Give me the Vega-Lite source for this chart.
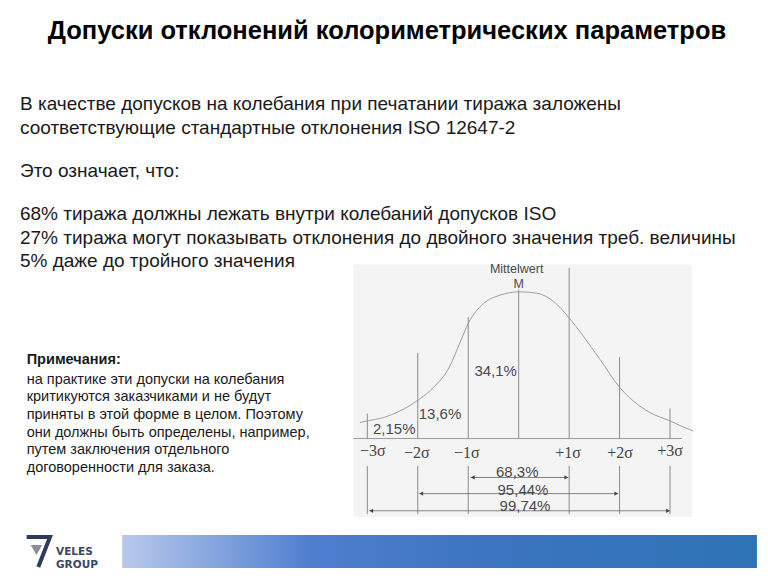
{
  "$schema": "https://vega.github.io/schema/vega-lite/v6.json",
  "width": 768,
  "height": 576,
  "autosize": {"type": "fit", "contains": "padding"},
  "padding": 0,
  "background": "#ffffff",
  "config": {"view": {"stroke": null}},
  "layer": [
    {
      "data": {"values": [{"x": -3.278, "x2": 3.429, "y": 0.473, "y2": -0.2136}]},
      "mark": {"type": "rect", "color": "#f4f4f4"},
      "encoding": {
        "x": {"field": "x", "type": "quantitative", "scale": {"domain": [-10.281, 4.942], "nice": false, "zero": false}, "axis": null},
        "x2": {"field": "x2"},
        "y": {"field": "y", "type": "quantitative", "scale": {"domain": [-0.3711, 1.1925], "nice": false, "zero": false}, "axis": null},
        "y2": {"field": "y2"}
      }
    },
    {
      "data": {"values": [{"x": -7.861, "x2": 4.723, "y": -0.2625, "y2": -0.3521}]},
      "mark": {"type": "rect", "color": {"gradient": "linear", "x1": 0, "x2": 1, "y1": 0, "y2": 0, "stops": [{"offset": 0, "color": "#b9c9eb"}, {"offset": 0.3, "color": "#4e7ecf"}, {"offset": 0.6, "color": "#3b74c0"}, {"offset": 1, "color": "#2e74b5"}]}},
      "encoding": {
        "x": {"field": "x", "type": "quantitative"},
        "x2": {"field": "x2"},
        "y": {"field": "y", "type": "quantitative"},
        "y2": {"field": "y2"}
      }
    },
    {
      "data": {"values": [
        {"x": -3.146, "y": 0.0434}, {"x": -3.0, "y": 0.0479}, {"x": -2.683, "y": 0.0569}, {"x": -2.353, "y": 0.075},
        {"x": -1.99, "y": 0.1049}, {"x": -1.692, "y": 0.1384}, {"x": -1.362, "y": 0.1972}, {"x": -1.164, "y": 0.2606},
        {"x": -0.992, "y": 0.3149}, {"x": -0.701, "y": 0.3665}, {"x": -0.371, "y": 0.3898}, {"x": 0.0125, "y": 0.399},
        {"x": 0.356, "y": 0.3953}, {"x": 0.686, "y": 0.3735}, {"x": 0.997, "y": 0.3284}, {"x": 1.281, "y": 0.2785},
        {"x": 1.612, "y": 0.2153}, {"x": 1.995, "y": 0.1401}, {"x": 2.272, "y": 0.1021}, {"x": 2.603, "y": 0.0706},
        {"x": 2.999, "y": 0.0479}, {"x": 3.263, "y": 0.0315}, {"x": 3.461, "y": 0.0206}
      ]},
      "mark": {"type": "line", "color": "#a0a0a0", "strokeWidth": 1, "interpolate": "monotone"},
      "encoding": {
        "x": {"field": "x", "type": "quantitative"},
        "y": {"field": "y", "type": "quantitative"}
      }
    },
    {
      "data": {"values": [{"x": -3.278, "x2": 3.231, "y": 0}]},
      "mark": {"type": "rule", "color": "#9a9a9a", "strokeWidth": 1},
      "encoding": {
        "x": {"field": "x", "type": "quantitative"},
        "x2": {"field": "x2"},
        "y": {"field": "y", "type": "quantitative"}
      }
    },
    {
      "data": {"values": [
        {"x": -3.0, "y": 0, "y2": 0.0679}, {"x": -2.0, "y": 0, "y2": 0.2334}, {"x": -1.0, "y": 0, "y2": 0.3301},
        {"x": 0.0, "y": 0, "y2": 0.405}, {"x": 1.0, "y": 0, "y2": 0.4642}, {"x": 2.0, "y": 0, "y2": 0.2215},
        {"x": 3.0, "y": 0, "y2": 0.0814},
        {"x": -3.0, "y": -0.0744, "y2": -0.2055}, {"x": -2.0, "y": -0.0744, "y2": -0.2055}, {"x": -1.0, "y": -0.0744, "y2": -0.2055},
        {"x": 1.0, "y": -0.0744, "y2": -0.2055}, {"x": 2.0, "y": -0.0744, "y2": -0.2055}, {"x": 3.0, "y": -0.0744, "y2": -0.2055}
      ]},
      "mark": {"type": "rule", "color": "#8c8c8c", "strokeWidth": 1},
      "encoding": {
        "x": {"field": "x", "type": "quantitative"},
        "y": {"field": "y", "type": "quantitative"},
        "y2": {"field": "y2"}
      }
    },
    {
      "data": {"values": [
        {"x": -0.951, "x2": 0.983, "y": -0.1059},
        {"x": -1.97, "x2": 1.974, "y": -0.1498},
        {"x": -2.961, "x2": 2.999, "y": -0.1965}
      ]},
      "mark": {"type": "rule", "color": "#666666", "strokeWidth": 0.8},
      "encoding": {
        "x": {"field": "x", "type": "quantitative"},
        "x2": {"field": "x2"},
        "y": {"field": "y", "type": "quantitative"}
      }
    },
    {
      "data": {"values": [
        {"x": -0.91, "y": -0.1059, "dir": "triangle-left"}, {"x": 0.943, "y": -0.1059, "dir": "triangle-right"},
        {"x": -1.93, "y": -0.1498, "dir": "triangle-left"}, {"x": 1.934, "y": -0.1498, "dir": "triangle-right"},
        {"x": -2.921, "y": -0.1965, "dir": "triangle-left"}, {"x": 2.959, "y": -0.1965, "dir": "triangle-right"}
      ]},
      "mark": {"type": "point", "filled": true, "color": "#444444", "size": 18, "opacity": 1},
      "encoding": {
        "x": {"field": "x", "type": "quantitative"},
        "y": {"field": "y", "type": "quantitative"},
        "shape": {"field": "dir", "type": "nominal", "scale": {"domain": ["triangle-left", "triangle-right"], "range": ["triangle-left", "triangle-right"]}, "legend": null}
      }
    },
    {
      "data": {"values": [
        {"x": -2.89, "y": -0.0327, "t": "−3σ"}, {"x": -2.02, "y": -0.0398, "t": "−2σ"}, {"x": -1.03, "y": -0.0398, "t": "−1σ"},
        {"x": 0.977, "y": -0.0398, "t": "+1σ"}, {"x": 2.008, "y": -0.0398, "t": "+2σ"}, {"x": 3.0, "y": -0.0327, "t": "+3σ"}
      ]},
      "mark": {"type": "text", "font": "Liberation Serif", "fontSize": 16, "color": "#444444", "align": "center", "baseline": "middle"},
      "encoding": {
        "x": {"field": "x", "type": "quantitative"},
        "y": {"field": "y", "type": "quantitative"},
        "text": {"field": "t"}
      }
    },
    {
      "data": {"values": [
        {"x": -0.456, "y": 0.1835, "t": "34,1%"}, {"x": -1.56, "y": 0.0679, "t": "13,6%"}, {"x": -2.466, "y": 0.0252, "t": "2,15%"},
        {"x": -0.028, "y": -0.0923, "t": "68,3%"}, {"x": 0.085, "y": -0.139, "t": "95,44%"}, {"x": 0.125, "y": -0.1838, "t": "99,74%"}
      ]},
      "mark": {"type": "text", "font": "Liberation Sans", "fontSize": 15, "color": "#4a4a4a", "align": "center", "baseline": "middle"},
      "encoding": {
        "x": {"field": "x", "type": "quantitative"},
        "y": {"field": "y", "type": "quantitative"},
        "text": {"field": "t"}
      }
    },
    {
      "data": {"values": [
        {"x": -0.04, "y": 0.4623, "t": "Mittelwert"}, {"x": 0.0, "y": 0.4202, "t": "M"}
      ]},
      "mark": {"type": "text", "font": "Liberation Sans", "fontSize": 12.5, "color": "#4a4a4a", "align": "center", "baseline": "middle"},
      "encoding": {
        "x": {"field": "x", "type": "quantitative"},
        "y": {"field": "y", "type": "quantitative"},
        "text": {"field": "t"}
      }
    },
    {
      "data": {"values": [
        {"x": -2.611, "y": 1.1083, "t": "Допуски отклонений колориметрических параметров"}
      ]},
      "mark": {"type": "text", "font": "Liberation Sans", "fontWeight": "bold", "fontSize": 25.5, "color": "#000000", "align": "center", "baseline": "middle"},
      "encoding": {
        "x": {"field": "x", "type": "quantitative"},
        "y": {"field": "y", "type": "quantitative"},
        "text": {"field": "t"}
      }
    },
    {
      "data": {"values": [
        {"x": -9.885, "y": 0.9101, "t": "В качестве допусков на колебания при печатании тиража заложены"},
        {"x": -9.885, "y": 0.845, "t": "соответствующие стандартные отклонения ISO 12647-2"},
        {"x": -9.885, "y": 0.7283, "t": "Это означает, что:"},
        {"x": -9.885, "y": 0.6116, "t": "68% тиража должны лежать внутри колебаний допусков ISO"},
        {"x": -9.885, "y": 0.5464, "t": "27% тиража могут показывать отклонения до двойного значения треб. величины"},
        {"x": -9.885, "y": 0.484, "t": "5% даже до тройного значения"}
      ]},
      "mark": {"type": "text", "font": "Liberation Sans", "fontSize": 19, "color": "#1a1a1a", "align": "left", "baseline": "middle"},
      "encoding": {
        "x": {"field": "x", "type": "quantitative"},
        "y": {"field": "y", "type": "quantitative"},
        "text": {"field": "t"}
      }
    },
    {
      "data": {"values": [
        {"x": -9.752, "y": 0.2125, "t": "Примечания:"}
      ]},
      "mark": {"type": "text", "font": "Liberation Sans", "fontWeight": "bold", "fontSize": 14.5, "color": "#1a1a1a", "align": "left", "baseline": "middle"},
      "encoding": {
        "x": {"field": "x", "type": "quantitative"},
        "y": {"field": "y", "type": "quantitative"},
        "text": {"field": "t"}
      }
    },
    {
      "data": {"values": [
        {"x": -9.752, "y": 0.1596, "t": "на практике эти допуски на колебания"},
        {"x": -9.752, "y": 0.1121, "t": "критикуются заказчиками и не будут"},
        {"x": -9.752, "y": 0.0646, "t": "приняты в этой форме в целом. Поэтому"},
        {"x": -9.752, "y": 0.0157, "t": "они должны быть определены, например,"},
        {"x": -9.752, "y": -0.0318, "t": "путем заключения отдельного"},
        {"x": -9.752, "y": -0.0806, "t": "договоренности для заказа."}
      ]},
      "mark": {"type": "text", "font": "Liberation Sans", "fontSize": 14.5, "color": "#1a1a1a", "align": "left", "baseline": "middle"},
      "encoding": {
        "x": {"field": "x", "type": "quantitative"},
        "y": {"field": "y", "type": "quantitative"},
        "text": {"field": "t"}
      }
    },
    {
      "data": {"values": [
        {"x": -9.752, "y": -0.2679, "o": 1}, {"x": -9.29, "y": -0.2679, "o": 2}, {"x": -9.522, "y": -0.3494, "o": 3}
      ]},
      "mark": {"type": "line", "color": "#2c3b5e", "strokeWidth": 4, "strokeJoin": "miter"},
      "encoding": {
        "x": {"field": "x", "type": "quantitative"},
        "y": {"field": "y", "type": "quantitative"},
        "order": {"field": "o"}
      }
    },
    {
      "data": {"values": [{"x": -9.558, "y": -0.3032}]},
      "mark": {"type": "point", "shape": "triangle-down", "filled": true, "color": "#8a8f99", "size": 130, "opacity": 1},
      "encoding": {
        "x": {"field": "x", "type": "quantitative"},
        "y": {"field": "y", "type": "quantitative"}
      }
    },
    {
      "data": {"values": [
        {"x": -9.171, "y": -0.3073, "t": "VELES"},
        {"x": -9.171, "y": -0.3426, "t": "GROUP"}
      ]},
      "mark": {"type": "text", "font": "DejaVu Sans", "fontWeight": "bold", "fontSize": 10.5, "color": "#3b4763", "align": "left", "baseline": "middle"},
      "encoding": {
        "x": {"field": "x", "type": "quantitative"},
        "y": {"field": "y", "type": "quantitative"},
        "text": {"field": "t"}
      }
    }
  ]
}
